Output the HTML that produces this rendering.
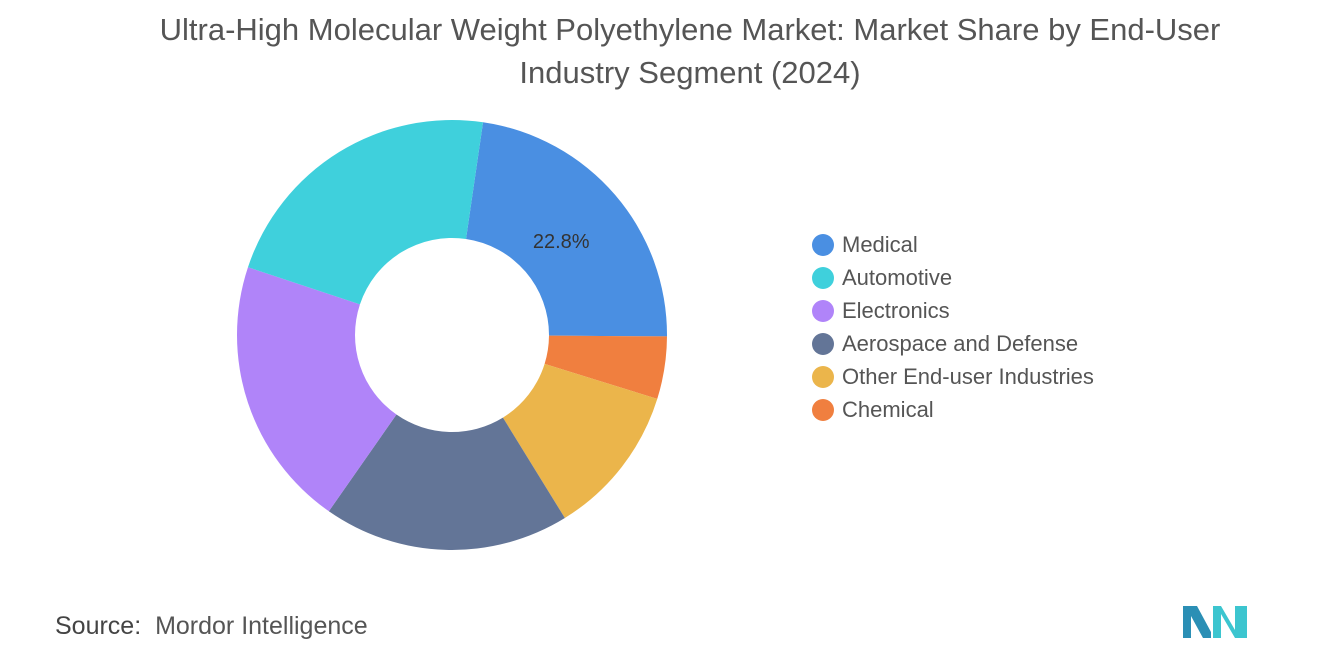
<!DOCTYPE html>
<html><head><meta charset="utf-8"><style>
body{margin:0;width:1320px;height:665px;background:#fff;font-family:"Liberation Sans",sans-serif;overflow:hidden;position:relative}
.t{position:absolute;left:0;width:1380px;text-align:center;color:#555;font-size:31px;line-height:43px;top:8px}
.lg{position:absolute;left:812px;font-size:22px;color:#555}
.lg div{height:33px;display:flex;align-items:center}
.lg span.d{width:22px;height:22px;border-radius:50%;display:inline-block;margin-right:8px}
.src{position:absolute;left:55px;top:612px;font-size:25px;color:#555}
</style></head><body>
<div class="t">Ultra-High Molecular Weight Polyethylene Market: Market Share by End-User<br>Industry Segment (2024)</div>
<svg id="c" width="1320" height="665" style="position:absolute;left:0;top:0"></svg>
<div class="lg" id="lg" style="top:228px"></div>
<div class="src"><b style="font-weight:normal;color:#444">Source:</b>&nbsp; Mordor Intelligence</div>
<svg width="70" height="40" style="position:absolute;left:1183px;top:602px">
<polygon points="0,36 0,4 14,4 28,30 28,36 20,36 8,14 8,36" fill="#2b8fb5"/>
<polygon points="30,36 30,4 38,4 52,28 52,4 64,4 64,36 52,36 38,12 38,36" fill="#3cc5cf"/>
</svg>
<script>
const categories=["Medical","Chemical","Other End-user Industries","Aerospace and Defense","Electronics","Automotive"];
const values=[22.8,4.7,11.4,18.5,20.4,22.2];
const colors=["#4a8fe2","#f07f3f","#ebb54b","#637597","#b084f9","#3fd0dc"];
const legendOrder=["Medical","Automotive","Electronics","Aerospace and Defense","Other End-user Industries","Chemical"];
const labelShown=[true,false,false,false,false,false];
const svg=document.getElementById('c');const NS="http://www.w3.org/2000/svg";
const cx=452,cy=335,R=215,r=97,start=8.3;
const total=values.reduce((a,b)=>a+b,0);
function pt(a,rad){const t=(a-90)*Math.PI/180;return[cx+rad*Math.cos(t),cy+rad*Math.sin(t)];}
let a=start;
values.forEach((v,i)=>{const sweep=v/total*360,b=a+sweep,lg=sweep>180?1:0;
const p1=pt(a,R),p2=pt(b,R),p3=pt(b,r),p4=pt(a,r);
const p=document.createElementNS(NS,'path');
p.setAttribute('d',`M${p1}A${R},${R} 0 ${lg} 1 ${p2}L${p3}A${r},${r} 0 ${lg} 0 ${p4}Z`);
p.setAttribute('fill',colors[i]);


svg.appendChild(p);
if(labelShown[i]){const m=pt((a+b)/2,(R+r)/2-12);const t=document.createElementNS(NS,'text');
t.setAttribute('x',m[0]);t.setAttribute('y',m[1]+7);t.setAttribute('text-anchor','middle');t.setAttribute('font-size','20');t.setAttribute('fill','#333');
t.textContent=v.toFixed(1)+'%';


svg.appendChild(t);}
a=b;});
const lgEl=document.getElementById('lg');
legendOrder.forEach(n=>{const d=document.createElement('div');


d.innerHTML=`<span class="d" style="background:${colors[categories.indexOf(n)]}"></span>${n}`;lgEl.appendChild(d);});
</script>
</body></html>
